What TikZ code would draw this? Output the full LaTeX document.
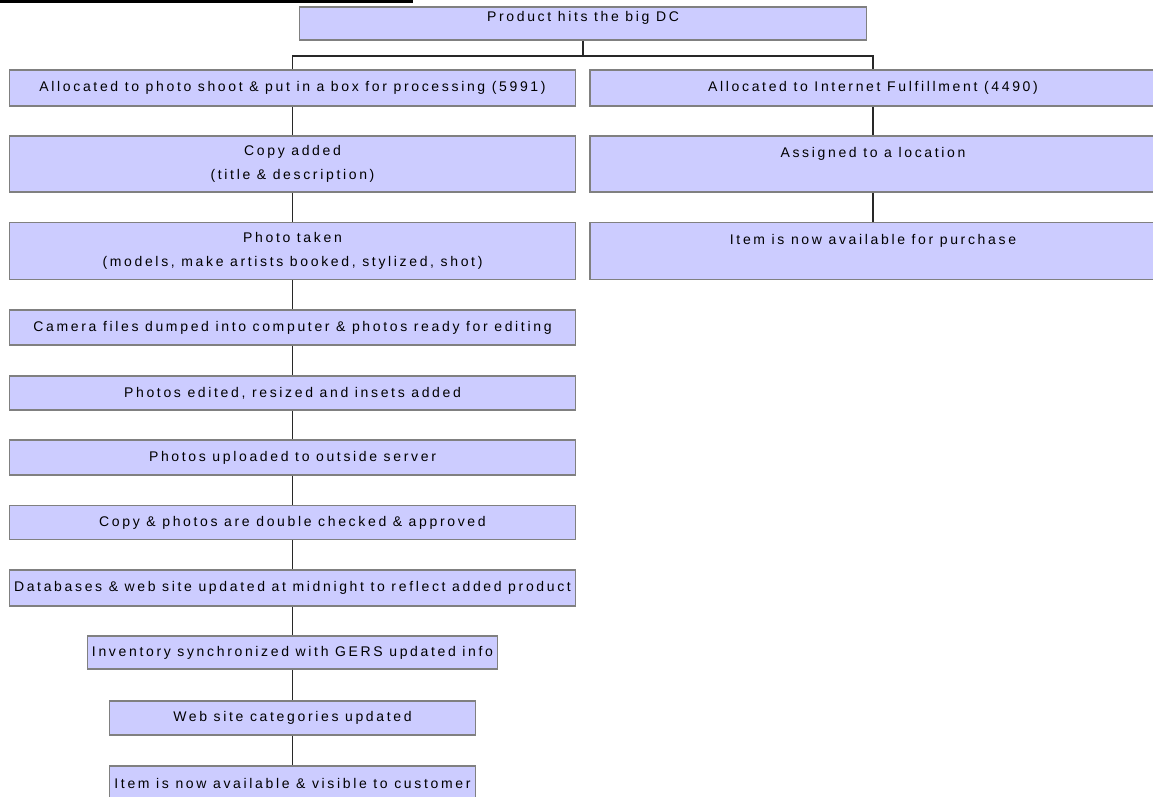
\documentclass[tikz,border=0pt]{standalone}
\usepackage{fontspec}
\newfontfamily\chartfont{Liberation Sans}[LetterSpace=19]
\definecolor{boxfill}{RGB}{204,204,255}
\definecolor{boxgray}{RGB}{128,128,128}
\definecolor{linegray}{RGB}{40,40,40}
\tikzset{
  stepbox/.style={draw=boxgray, fill=boxfill, line width=1.6pt, minimum width=566pt,
    minimum height=35pt, inner sep=0pt, align=center,
    font=\chartfont\fontsize{14}{24}\selectfont},
  link/.style={draw=linegray, line width=1.7pt}
}
\begin{document}
\begin{tikzpicture}[x=1pt,y=-1pt]
      \useasboundingbox (0,0) rectangle (1153,797);
      \fill (0,0) rectangle (413,3.5);
      \path
        (583,23.5) node[stepbox, minimum width=567pt, minimum height=33pt, text depth=14pt] (dc) {Product hits the big DC}
        (292.5,88) node[stepbox, minimum height=36pt] (shoot) {Allocated to photo shoot \& put in a box for processing (5991)}
        (292.5,164) node[stepbox, minimum height=56pt] (copy) {Copy added\\(title \& description)}
        (292.5,251) node[stepbox, minimum height=57pt] (photo) {Photo taken\\(models, make artists booked, stylized, shot)}
        (292.5,327.5) node[stepbox] (camera) {Camera files dumped into computer \& photos ready for editing}
        (292.5,393) node[stepbox, minimum height=34pt] (edited) {Photos edited, resized and insets added}
        (292.5,457.5) node[stepbox] (upload) {Photos uploaded to outside server}
        (292.5,522.5) node[stepbox, minimum height=34pt] (approve) {Copy \& photos are double checked \& approved}
        (292.5,588) node[stepbox, minimum height=36pt] (db) {Databases \& web site updated at midnight to reflect added product}
        (292.5,652.5) node[stepbox, minimum width=410pt, minimum height=33pt] (gers) {Inventory synchronized with GERS updated info}
        (292.5,718) node[stepbox, minimum width=366pt, minimum height=34pt] (cats) {Web site categories updated}
        (292.5,783) node[stepbox, minimum width=366pt, minimum height=34pt] (visible) {Item is now available \& visible to customer}
        (873,88) node[stepbox, minimum height=36pt] (internet) {Allocated to Internet Fulfillment (4490)}
        (873,164) node[stepbox, minimum height=56pt] (location) {Assigned to a location\\\mbox{}}
        (873,251) node[stepbox, minimum height=57pt] (purchase) {Item is now available for purchase\\\mbox{}};
      \coordinate (split) at (583,56);
      \begin{scope}[link]
        \draw (dc) to (split);
        \draw (shoot.north) |- (split) -| (internet.north);
        \draw (shoot) to (copy);
        \draw (copy) to (photo);
        \draw (photo) to (camera);
        \draw (camera) to (edited);
        \draw (edited) to (upload);
        \draw (upload) to (approve);
        \draw (approve) to (db);
        \draw (db) to (gers);
        \draw (gers) to (cats);
        \draw (cats) to (visible);
        \draw (internet) to (location);
        \draw (location) to (purchase);
      \end{scope}
    \end{tikzpicture}
\end{document}
